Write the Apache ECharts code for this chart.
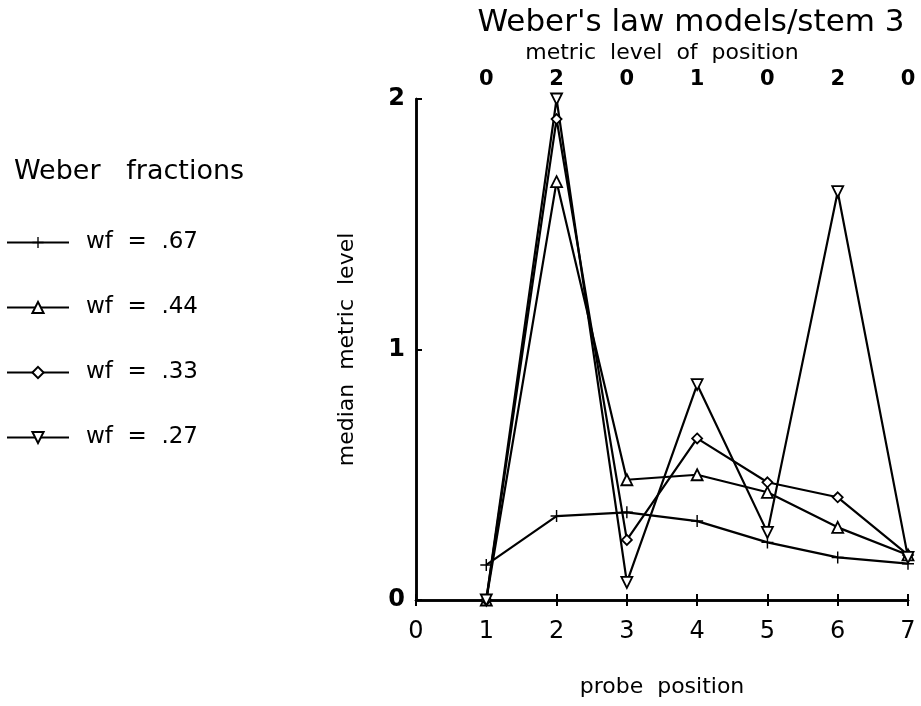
<!DOCTYPE html>
<html>
<head>
<meta charset="utf-8">
<script src="https://cdn.jsdelivr.net/npm/echarts@6/dist/echarts.min.js"></script>
<style>html,body{margin:0;padding:0;background:#fff;}#c{width:921px;height:706px;}</style>
</head>
<body>
<div id="c"></div>
<script>
var positions = [1, 2, 3, 4, 5, 6, 7];
var xTickLabels = ['0', '1', '2', '3', '4', '5', '6', '7'];
var topTickLabels = ['', '0', '2', '0', '1', '0', '2', '0'];
var yTickLabels = ['0', '1', '2'];
var seriesNames = ['wf  =  .67', 'wf  =  .44', 'wf  =  .33', 'wf  =  .27'];
var wf67 = [0.14, 0.335, 0.35, 0.315, 0.23, 0.17, 0.145];
var wf44 = [0.0, 1.67, 0.48, 0.50, 0.43, 0.29, 0.18];
var wf33 = [0.0, 1.92, 0.24, 0.645, 0.47, 0.41, 0.18];
var wf27 = [0.0, 2.0, 0.07, 0.86, 0.27, 1.63, 0.17];

var FONT = 'DejaVu Sans';
function pairs(vals) { return positions.map(function (p, i) { return [p, vals[i]]; }); }
var plusPath = 'path://M4.4,0 H5.6 V4.4 H10 V5.6 H5.6 V10 H4.4 V5.6 H0 V4.4 H4.4 Z';
var downTri = 'path://M0,0 L10,0 L5,9 Z';

function mkSeries(name, vals, symbol, size, fill) {
  return {
    name: name, type: 'line', data: pairs(vals),
    symbol: symbol, symbolSize: size, showAllSymbol: true,
    lineStyle: { color: '#000', width: 2.2 },
    itemStyle: { color: fill, borderColor: '#000', borderWidth: fill === '#000' ? 0 : 1.8 },
    emphasis: { disabled: true }, animation: false
  };
}

var chart = echarts.init(document.getElementById('c'), null, { renderer: 'canvas' });
chart.setOption({
  backgroundColor: '#fff',
  animation: false,
  title: [
    { text: "Weber's law models/stem 3", left: 686, top: 2, textAlign: 'center',
      textStyle: { fontFamily: FONT, fontSize: 31, fontWeight: 'normal', color: '#000' } },
    { text: 'Weber   fractions', left: 9, top: 153,
      textStyle: { fontFamily: FONT, fontSize: 27, fontWeight: 'normal', color: '#000' } }
  ],
  legend: {
    orient: 'vertical', left: 1, top: 226,
    itemWidth: 62, itemHeight: 14, itemGap: 42,
    data: seriesNames,
    textStyle: { fontFamily: FONT, fontSize: 23, color: '#000', padding: [0, 0, 0, 12] },
    selectedMode: false
  },
  grid: { left: 416, right: 13, top: 99, bottom: 106 },
  xAxis: [
    { type: 'value', position: 'bottom', min: 0, max: 7, interval: 1,
      name: 'probe  position', nameLocation: 'middle', nameGap: 76,
      nameTextStyle: { fontFamily: FONT, fontSize: 22, color: '#000' },
      axisLine: { show: true, lineStyle: { color: '#000', width: 2.5 } },
      axisTick: { show: true, inside: true, length: 6, lineStyle: { color: '#000', width: 2 } },
      axisLabel: { fontFamily: FONT, fontSize: 24, color: '#000', margin: 20,
        formatter: function (v) { return xTickLabels[v]; } },
      splitLine: { show: false } },
    { type: 'value', position: 'top', min: 0, max: 7, interval: 1,
      name: 'metric  level  of  position', nameLocation: 'middle', nameGap: 33,
      nameTextStyle: { fontFamily: FONT, fontSize: 22, color: '#000' },
      axisLine: { show: true, lineStyle: { color: '#000', width: 2.5 } },
      axisTick: { show: true, inside: true, length: 6, lineStyle: { color: '#000', width: 2 } },
      axisLabel: { fontFamily: FONT, fontSize: 21, fontWeight: 'bold', color: '#000', margin: 9,
        formatter: function (v) { return topTickLabels[v]; } },
      splitLine: { show: false } }
  ],
  yAxis: [
    { type: 'value', position: 'left', min: 0, max: 2, interval: 1,
      name: 'median  metric  level', nameLocation: 'middle', nameGap: 58, nameRotate: 90,
      nameTextStyle: { fontFamily: FONT, fontSize: 22, color: '#000' },
      axisLine: { show: true, lineStyle: { color: '#000', width: 2.5 } },
      axisTick: { show: true, inside: true, length: 6, lineStyle: { color: '#000', width: 2 } },
      axisLabel: { fontFamily: FONT, fontSize: 24, fontWeight: 'bold', color: '#000', margin: 11,
        formatter: function (v) { return yTickLabels[v]; } },
      splitLine: { show: false } },
    { type: 'value', position: 'right', min: 0, max: 2, interval: 1,
      axisLine: { show: true, lineStyle: { color: '#000', width: 2.5 } },
      axisTick: { show: false }, axisLabel: { show: false }, splitLine: { show: false } }
  ],
  series: [
    mkSeries(seriesNames[0], wf67, plusPath, 12, '#000'),
    mkSeries(seriesNames[1], wf44, 'triangle', 11, '#fff'),
    mkSeries(seriesNames[2], wf33, 'diamond', 10, '#fff'),
    mkSeries(seriesNames[3], wf27, downTri, 11, '#fff')
  ]
});
</script>
</body>
</html>
